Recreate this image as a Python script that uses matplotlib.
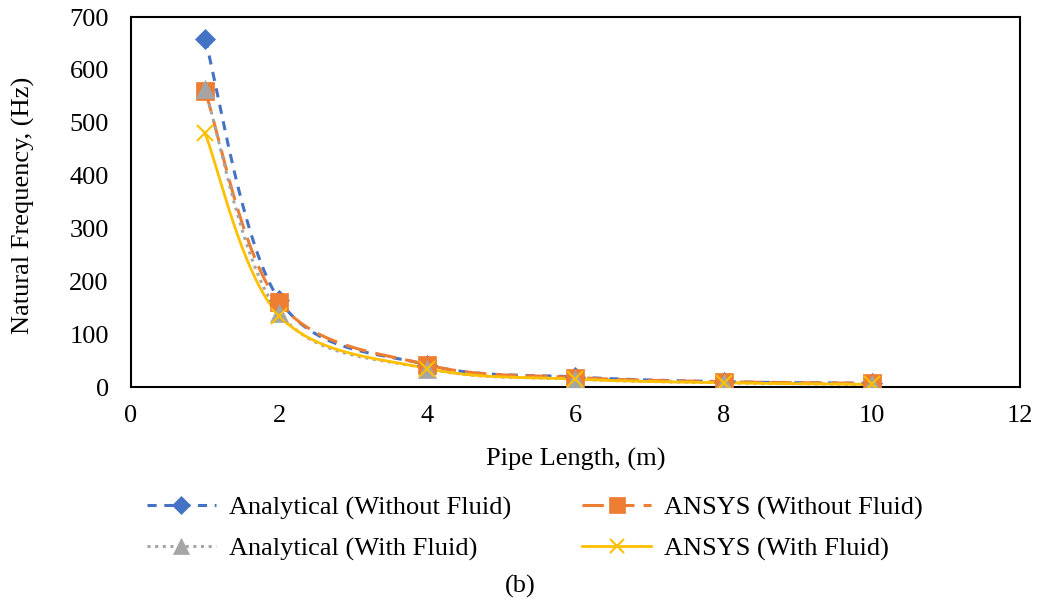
import numpy as np
import matplotlib.pyplot as plt
from matplotlib.lines import Line2D

plt.rcParams['font.family'] = ['Liberation Serif', 'DejaVu Serif']

length = [1, 2, 4, 6, 8, 10]
analytical_without = [658, 165, 42, 19, 10, 7]
ansys_without = [560, 160, 42, 18, 10, 7]
analytical_with = [563, 140, 35, 15, 8, 5]
ansys_with = [480, 135, 35, 15, 8, 5]


def smooth(x, y, n=40):
    # excel-like smoothed line (catmull-rom bezier)
    x = np.asarray(x, float)
    y = np.asarray(y, float)
    px = np.concatenate([[x[0]], x, [x[-1]]])
    py = np.concatenate([[y[0]], y, [y[-1]]])
    xs, ys = [], []
    t = np.linspace(0, 1, n)
    for i in range(1, len(px) - 2):
        p0 = np.array([px[i - 1], py[i - 1]])
        p1 = np.array([px[i], py[i]])
        p2 = np.array([px[i + 1], py[i + 1]])
        p3 = np.array([px[i + 2], py[i + 2]])
        c1 = p1 + (p2 - p0) / 6
        c2 = p2 - (p3 - p1) / 6
        b = ((1 - t) ** 3)[:, None] * p1 + (3 * (1 - t) ** 2 * t)[:, None] * c1 \
            + (3 * (1 - t) * t ** 2)[:, None] * c2 + (t ** 3)[:, None] * p2
        xs.append(b[:, 0])
        ys.append(b[:, 1])
    return np.concatenate(xs), np.concatenate(ys)


fs = 19
fig = plt.figure(figsize=(10.37, 6.05), dpi=100)
ax = fig.add_axes([0.1263, 0.3603, 0.8573, 0.6116])

series = [
    (analytical_without, 'Analytical (Without Fluid)', '#4472C4', (0, (3, 2.5)), 'D', 10.5),
    (ansys_without, 'ANSYS (Without Fluid)', '#ED7D31', (0, (7, 3)), 's', 13),
    (analytical_with, 'Analytical (With Fluid)', '#A5A5A5', (0, (1, 1.5)), '^', 13),
    (ansys_with, 'ANSYS (With Fluid)', '#FFC000', '-', 'x', 12),
]

handles = []
for vals, name, col, ls, mk, ms in series:
    sx, sy = smooth(length, vals)
    lw = 2.2 if ls != '-' else 2.0
    mew = 1.5 if mk == 'x' else 0.5
    ax.plot(sx, sy, color=col, linestyle=ls, lw=lw, zorder=2)
    ax.plot(length, vals, linestyle='none', marker=mk, markersize=ms, color=col,
            markeredgecolor=col, markeredgewidth=mew, zorder=3)
    handles.append(Line2D([], [], color=col, linestyle=ls, lw=lw, marker=mk,
                          markersize=ms * 0.85, markeredgecolor=col,
                          markeredgewidth=mew, label=name))

ax.set_xlim(0, 12)
ax.set_ylim(0, 700)
ax.set_xticks(range(0, 13, 2))
ax.set_yticks(range(0, 701, 100))
ax.tick_params(length=0, labelsize=fs)
ax.tick_params(axis='y', pad=16)
ax.tick_params(axis='x', pad=13)
for s in ax.spines.values():
    s.set_linewidth(1.5)
    s.set_color('black')

ax.set_xlabel('Pipe Length, (m)', fontsize=fs, va='center')
ax.set_ylabel('Natural Frequency, (Hz)', fontsize=fs, va='center')
ax.xaxis.set_label_coords(0.5, -0.195)
ax.yaxis.set_label_coords(-0.1208, 0.49)

# legend fills column-wise, so order gives rows: analytical/ansys without, then with
order = [0, 2, 1, 3]
fig.legend(handles=[handles[i] for i in order], loc='center',
           bbox_to_anchor=(0.516, 0.127), ncol=2, frameon=False, fontsize=fs,
           handlelength=2.6, columnspacing=2.7, labelspacing=0.65,
           handletextpad=0.5)

fig.text(0.502, 0.031, '(b)', ha='center', va='center', fontsize=fs)

fig.savefig('out.png', dpi=100)
